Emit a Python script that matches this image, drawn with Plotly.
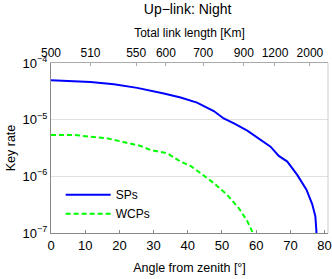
import plotly.graph_objects as go

# Data
sp_angle = [0, 11.55, 18.4, 25.2, 33.0, 37.9, 42.7, 45.2, 47.6, 50.5, 53.5, 57.4, 61.3, 64.2, 66.6, 69.1, 72.0, 74.7, 76.4, 77.3, 77.6, 77.7]
sp_rate = [4.97e-5, 4.64e-5, 4.22e-5, 3.64e-5, 2.90e-5, 2.46e-5, 2.0e-5, 1.70e-5, 1.42e-5, 1.05e-5, 8.6e-6, 6.4e-6, 4.5e-6, 3.34e-6, 2.29e-6, 1.82e-6, 1.06e-6, 5.8e-7, 3.2e-7, 1.97e-7, 1.1e-7, 5e-8]

wcp_angle = [0, 6.7, 16.4, 26.2, 29.1, 34.0, 37.9, 40.8, 43.7, 47.6, 51.5, 54.9, 57.4, 58.8, 59.3]
wcp_rate = [5.36e-6, 5.36e-6, 4.69e-6, 3.44e-6, 2.92e-6, 2.55e-6, 1.82e-6, 1.53e-6, 1.14e-6, 7.6e-7, 4.73e-7, 2.76e-7, 1.62e-7, 1.07e-7, 6e-8]

top_tick_angle = [0, 11.55, 24.9, 33.6, 44.5, 56.4, 65.5, 75.7]
top_tick_text = ["500", "510", "550", "600", "700", "900", "1200", "2000"]

y_tick_vals = [1e-7, 1e-6, 1e-5, 1e-4]
y_tick_text = ["10<sup>−7</sup>", "10<sup>−6</sup>", "10<sup>−5</sup>", "10<sup>−4</sup>"]

FONT = "Liberation Sans, Arial, sans-serif"

fig = go.Figure()
fig.add_trace(go.Scatter(x=sp_angle, y=sp_rate, mode="lines", name="SPs",
                         line=dict(color="#0000ff", width=2)))
fig.add_trace(go.Scatter(x=wcp_angle, y=wcp_rate, mode="lines", name="WCPs",
                         line=dict(color="#00ff00", width=2, dash="5px,3px")))
# invisible trace to carry the top axis
fig.add_trace(go.Scatter(x=[0, 81], y=[1e-7, 1e-7], xaxis="x2", mode="lines",
                         line=dict(width=0), showlegend=False, hoverinfo="skip"))

fig.update_layout(
    width=332, height=279,
    margin=dict(l=51, r=4, t=63, b=46),
    paper_bgcolor="white", plot_bgcolor="white",
    font=dict(family=FONT, size=12, color="#000000"),
    title=dict(text="Up−link: Night", x=0.565, xanchor="center", y=0.985, yanchor="top",
               font=dict(size=14, family=FONT), automargin=False),
    showlegend=True,
    legend=dict(x=0.035, y=0.31, xanchor="left", yanchor="top", bgcolor="rgba(0,0,0,0)",
                font=dict(size=12, family=FONT), tracegroupgap=14, itemwidth=45),
    xaxis=dict(range=[0, 81], tickvals=[0, 10, 20, 30, 40, 50, 60, 70, 80],
               ticks="inside", ticklen=3, tickcolor="#888888", showgrid=False,
               showline=True, linecolor="#888888", mirror=False, zeroline=False,
               automargin=False,
               title=dict(text="Angle from zenith [°]", standoff=11, font=dict(size=12.5)),
               tickfont=dict(size=13)),
    xaxis2=dict(range=[0, 81], overlaying="x", side="top", tickvals=top_tick_angle,
                ticktext=top_tick_text, ticks="inside", ticklen=3, tickcolor="#aaaaaa",
                showgrid=False, showline=True, linecolor="#aaaaaa", zeroline=False,
                automargin=False,
                title=dict(text="Total link length [Km]", standoff=6, font=dict(size=12)),
                tickfont=dict(size=12)),
    yaxis=dict(type="log", range=[-7, -4], tickvals=y_tick_vals, ticktext=y_tick_text,
               ticks="", showgrid=True, gridcolor="#e0e0e0", gridwidth=1,
               showline=True, linecolor="#888888", mirror=False, zeroline=False,
               automargin=False,
               title=dict(text="Key rate", standoff=4, font=dict(size=12.5)),
               tickfont=dict(size=13)),
)
# right border
fig.add_shape(type="line", xref="paper", yref="paper", x0=1, x1=1, y0=0, y1=1,
              line=dict(color="#cccccc", width=1))

fig.write_html("out.html", config={"displayModeBar": False},
               post_script="document.body.style.margin='0';document.body.style.overflow='hidden';")
